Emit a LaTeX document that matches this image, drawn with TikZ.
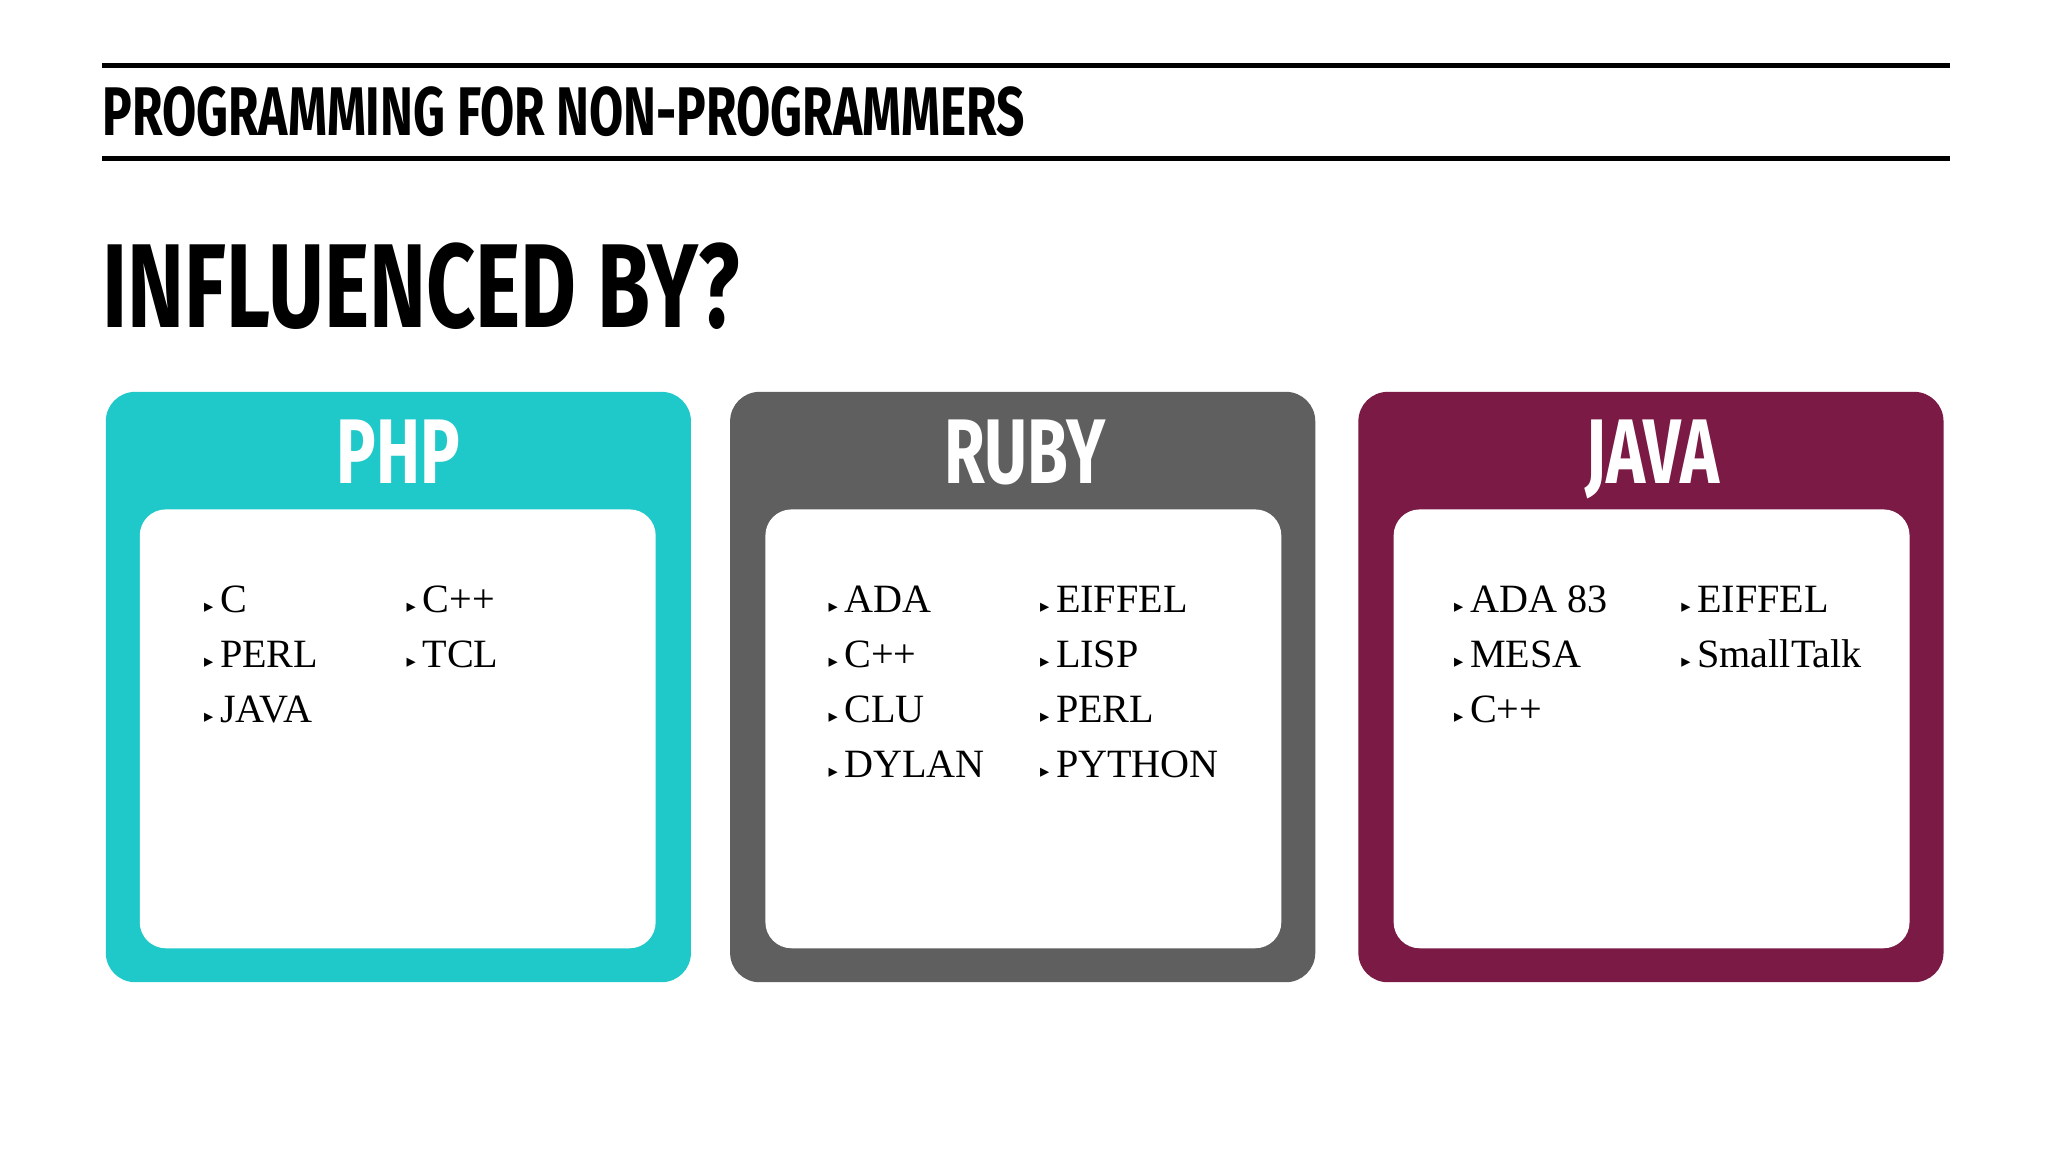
\documentclass[tikz,border=0pt]{standalone}
\usepackage{fontspec}
\setmainfont{Liberation Serif}
\newfontfamily\cond[FakeStretch=0.72]{Fira Sans Bold}
\newfontfamily\djv{DejaVu Sans}
\definecolor{phpc}{HTML}{20C9C9}
\definecolor{rubyc}{HTML}{5F5F5F}
\definecolor{javac}{HTML}{7A1A45}
\newcommand{\bul}{{\djv\fontsize{8}{8}\selectfont ▸}\,}
\tikzset{
  outerbox/.style={rounded corners=0.45cm},
  innerbox/.style={fill=white,rounded corners=0.4cm},
  ttl/.style={font=\cond\fontsize{40}{40}\selectfont,text=white,anchor=base},
  item/.style={font=\fontsize{17.5}{17.5}\selectfont,anchor=base west,inner sep=0pt},
  rule/.style={line width=2.2pt}
}
\begin{document}
\begin{tikzpicture}[x=0.02cm,y=-0.02cm]
\useasboundingbox (0,0) rectangle (1568,880);
\fill[white] (0,0) rectangle (1568,880);
\coordinate (l1a) at (78,50); \coordinate (l1b) at (1493,50);
\coordinate (l2a) at (78,121); \coordinate (l2b) at (1493,121);
\draw[rule] (l1a) -- (l1b);
\draw[rule] (l2a) -- (l2b);
\node[anchor=base west,inner sep=0pt,font=\cond\fontsize{30}{30}\selectfont] (hdr) at (78,104) {PROGRAMMING FOR NON-PROGRAMMERS};
\node[anchor=base west,inner sep=0pt,font=\cond\fontsize{52}{52}\selectfont] (infl) at (78,251) {INFLUENCED BY?};
% boxes
\fill[phpc,outerbox] (81,300) rectangle (529,752);
\fill[innerbox] (107,390) rectangle (502,726);
\node[ttl] (php) at (305,370) {PHP};
\fill[rubyc,outerbox] (559,300) rectangle (1007,752);
\fill[innerbox] (586,390) rectangle (981,726);
\node[ttl] (ruby) at (785,370) {RUBY};
\fill[javac,outerbox] (1040,300) rectangle (1488,752);
\fill[innerbox] (1067,390) rectangle (1462,726);
\node[ttl] (java) at (1265,370) {JAVA};
% PHP items
\node[item] (p1) at (156,469) {\bul C};
\node[item] (p2) at (156,511) {\bul PERL};
\node[item] (p3) at (156,553) {\bul JAVA};
\node[item] (p4) at (311,469) {\bul C++};
\node[item] (p5) at (311,511) {\bul TCL};
% Ruby items
\node[item] (r1) at (634,469) {\bul ADA};
\node[item] (r2) at (634,511) {\bul C++};
\node[item] (r3) at (634,553) {\bul CLU};
\node[item] (r4) at (634,595) {\bul DYLAN};
\node[item] (r5) at (796,469) {\bul EIFFEL};
\node[item] (r6) at (796,511) {\bul LISP};
\node[item] (r7) at (796,553) {\bul PERL};
\node[item] (r8) at (796,595) {\bul PYTHON};
% Java items
\node[item] (j1) at (1113,469) {\bul ADA 83};
\node[item] (j2) at (1113,511) {\bul MESA};
\node[item] (j3) at (1113,553) {\bul C++};
\node[item] (j4) at (1287,469) {\bul EIFFEL};
\node[item] (j5) at (1287,511) {\bul SmallTalk};
\end{tikzpicture}
\end{document}
